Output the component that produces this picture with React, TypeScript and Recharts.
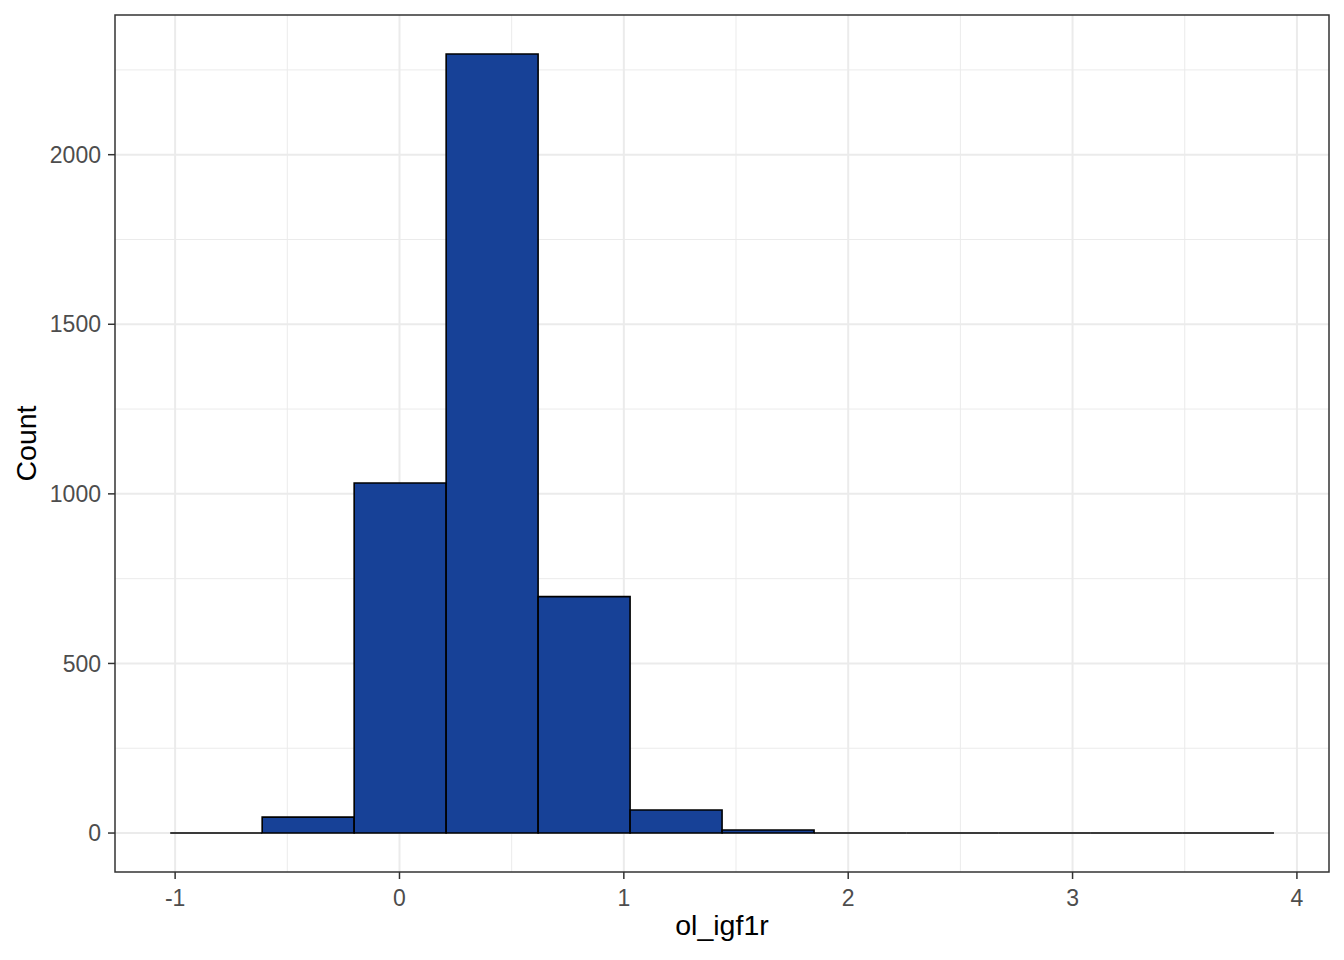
import React from "react";
import { ComposedChart, Bar, XAxis, YAxis, CartesianGrid, ReferenceArea, Label } from "recharts";

// histogram bins (midpoints) and counts
const binMids = [-0.817, -0.407, 0.003, 0.413, 0.823, 1.233, 1.643, 2.053, 2.463, 2.873, 3.283, 3.693];
const binCounts = [0, 47, 1032, 2297, 697, 68, 9, 0, 0, 0, 0, 0];
const binWidth = 0.41;

const xTicks = [-1, 0, 1, 2, 3, 4];
const xMinor = [-0.5, 0.5, 1.5, 2.5, 3.5];
const yTicks = [0, 500, 1000, 1500, 2000];
const yMinor = [250, 750, 1250, 1750, 2250];

const xDomain: [number, number] = [-1.268, 4.143];
const yDomain: [number, number] = [-114.85, 2411.85];

const FONT = "'Liberation Sans', Arial, sans-serif";
const FILL = "#174197";

const W = 1344;
const H = 960;
const margin = { top: 15, right: 15, left: 0, bottom: 0 };
const yAxisWidth = 115;
const xAxisHeight = 88;
const plotW = W - margin.left - margin.right - yAxisWidth;
const binPx = (binWidth * plotW) / (xDomain[1] - xDomain[0]) - 0.05;

const data = binMids.map((mid, i) => ({ mid, count: binCounts[i] }));

const HistRect = (props: any) => {
  const { x, y, width, height } = props;
  if (x == null || y == null || isNaN(x) || isNaN(y)) return null;
  return (
    <path
      d={`M${x},${y}h${width}v${height || 0}h${-width}Z`}
      fill={FILL}
      stroke="#000000"
      strokeWidth={1.6}
    />
  );
};

const tickStyle = { fill: "#4D4D4D", fontSize: 23, fontFamily: FONT };
const tickLineStyle = { stroke: "#333333", strokeWidth: 1.5 };

export default function App() {
  return (
    <div style={{ position: "absolute", left: 0, top: 0, width: W, height: H, background: "#fff" }}>
      <ComposedChart width={W} height={H} data={data} margin={margin}>
        <CartesianGrid
          stroke="#EBEBEB"
          strokeWidth={1}
          verticalValues={xMinor}
          horizontalValues={yMinor}
        />
        <CartesianGrid
          stroke="#EBEBEB"
          strokeWidth={2}
          verticalValues={xTicks}
          horizontalValues={yTicks}
        />
        <XAxis
          dataKey="mid"
          type="number"
          domain={xDomain}
          allowDataOverflow
          ticks={xTicks}
          interval={0}
          height={xAxisHeight}
          axisLine={false}
          tickLine={tickLineStyle}
          tickSize={7}
          tickMargin={11}
          tick={tickStyle}
        >
          <Label
            content={(p: any) => {
              const vb = p.viewBox;
              return (
                <text
                  x={vb.x + vb.width / 2}
                  y={vb.y + vb.height - 25}
                  textAnchor="middle"
                  fontSize={28.5}
                  fontFamily={FONT}
                  fill="#000000"
                >
                  ol_igf1r
                </text>
              );
            }}
          />
        </XAxis>
        <YAxis
          type="number"
          domain={yDomain}
          allowDataOverflow
          ticks={yTicks}
          interval={0}
          width={yAxisWidth}
          axisLine={false}
          tickLine={tickLineStyle}
          tickSize={7}
          tickMargin={7}
          tick={tickStyle}
        >
          <Label
            content={(p: any) => {
              const vb = p.viewBox;
              const cx = vb.x + 36;
              const cy = vb.y + vb.height / 2;
              return (
                <text
                  x={cx}
                  y={cy}
                  transform={`rotate(-90, ${cx}, ${cy})`}
                  textAnchor="middle"
                  fontSize={28.5}
                  fontFamily={FONT}
                  fill="#000000"
                >
                  Count
                </text>
              );
            }}
          />
        </YAxis>
        <Bar
          dataKey="count"
          barSize={binPx}
          shape={HistRect}
          isAnimationActive={false}
        />
        <ReferenceArea
          x1={xDomain[0]}
          x2={xDomain[1]}
          y1={yDomain[0]}
          y2={yDomain[1]}
          fill="none"
          fillOpacity={0}
          stroke="#333333"
          strokeWidth={1.5}
          ifOverflow="visible"
        />
      </ComposedChart>
    </div>
  );
}
